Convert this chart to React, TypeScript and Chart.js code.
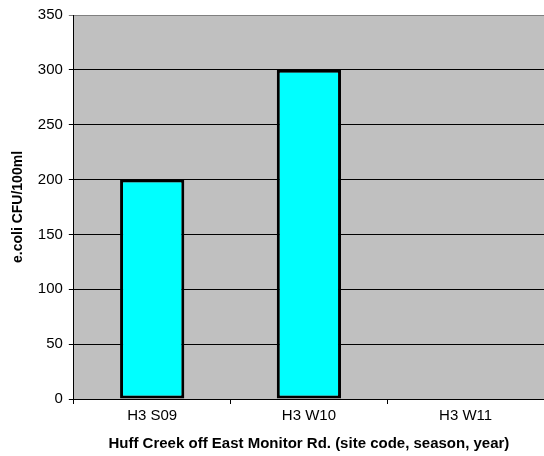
import React, { useEffect, useRef } from "react";
import { Chart, registerables } from "chart.js";

Chart.register(...registerables);

const categories = ["H3 S09", "H3 W10", "H3 W11"];
const ecoliValues: (number | null)[] = [200, 300, null];
const yTicks = [0, 50, 100, 150, 200, 250, 300, 350];

const plotBg = {
  id: "plotBg",
  beforeDraw(chart: any) {
    const { ctx, chartArea } = chart;
    ctx.save();
    ctx.fillStyle = "#C0C0C0";
    ctx.fillRect(chartArea.left, chartArea.top, chartArea.right - chartArea.left, chartArea.bottom - chartArea.top);
    ctx.restore();
  },
};

export default function App() {
  const ref = useRef<HTMLCanvasElement>(null);
  useEffect(() => {
    const font = "'Liberation Sans', Arial, sans-serif";
    const chart = new Chart(ref.current!, {
      type: "bar",
      data: {
        labels: categories,
        datasets: [
          {
            data: ecoliValues,
            backgroundColor: "#00FFFF",
            borderColor: "#000000",
            borderWidth: 3,
            borderSkipped: false,
            categoryPercentage: 1,
            barPercentage: 0.41,
          },
        ],
      },
      options: {
        responsive: false,
        animation: false,
        layout: { padding: { top: 6, right: 0, left: 10, bottom: 3 } },
        plugins: { legend: { display: false }, tooltip: { enabled: false } },
        scales: {
          x: {
            offset: true,
            grid: { offset: true, drawOnChartArea: false, drawTicks: true, tickLength: 5, color: "#000" },
            border: { color: "#000", width: 1 },
            ticks: { color: "#000", font: { family: font, size: 15 }, padding: 3 },
            title: {
              display: true,
              text: "Huff Creek off East Monitor Rd. (site code, season, year)",
              color: "#000",
              font: { family: font, size: 15, weight: "bold" },
              padding: { top: 7, bottom: 0 },
            },
          },
          y: {
            min: 0,
            max: 350,
            afterBuildTicks: (axis: any) => {
              axis.ticks = yTicks.map((v) => ({ value: v }));
            },
            grid: {
              color: (c: any) => (c.tick && c.tick.value === 350 ? "#808080" : "#000"),
              lineWidth: 1,
              tickLength: 5,
            },
            border: { color: "#000", width: 1 },
            ticks: { color: "#000", font: { family: font, size: 15 }, padding: 6 },
            title: {
              display: true,
              text: "e.coli CFU/100ml",
              color: "#000",
              font: { family: font, size: 14, weight: "bold" },
              padding: { top: 0, bottom: 5 },
            },
          },
        },
      },
      plugins: [plotBg],
    });
    return () => chart.destroy();
  }, []);
  return (
    <div style={{ position: "absolute", left: 0, top: 0, width: 544, height: 456, background: "#fff" }}>
      <canvas ref={ref} width={544} height={456} />
    </div>
  );
}
